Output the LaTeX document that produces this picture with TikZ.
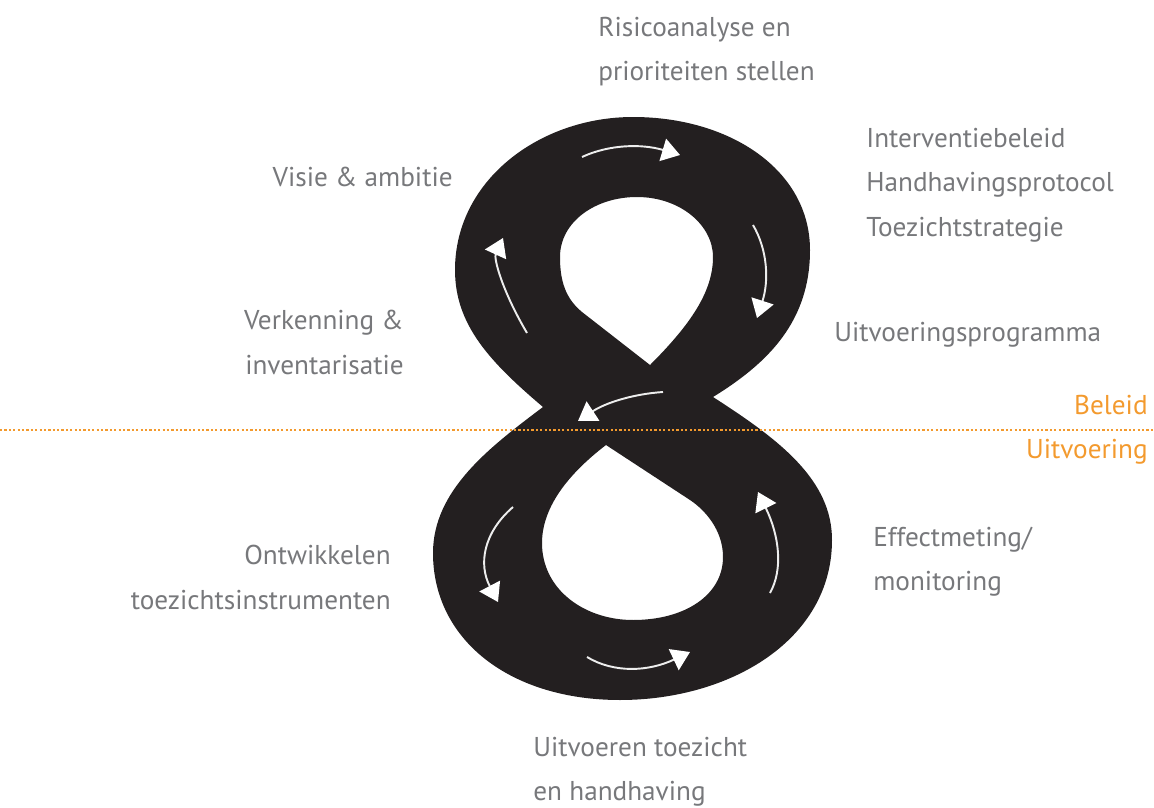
\documentclass[tikz,border=0pt]{standalone}
\usepackage{fontspec}
\setmainfont{PT Sans}
\usetikzlibrary{arrows.meta}
\definecolor{eightblack}{HTML}{231F20}
\definecolor{labelgray}{HTML}{77787B}
\definecolor{lineorange}{HTML}{F39A2E}
\definecolor{arrowwhite}{HTML}{EDEDED}
\tikzset{
  lbl/.style={inner sep=0pt, text=labelgray, font=\fontsize{15.5pt}{25.3pt}\selectfont},
  orangelbl/.style={inner sep=0pt, text=lineorange, font=\fontsize{15.5pt}{25.3pt}\selectfont},
  flow/.style={draw=arrowwhite, line width=1.1pt, -{Triangle[length=0.36cm,width=0.46cm,fill=white,color=white]}},
  divider/.style={draw=lineorange, line width=1.4pt, dash pattern=on 1.25pt off 1.25pt}
}
\begin{document}
\begin{tikzpicture}[x=0.02cm,y=-0.02cm]
\useasboundingbox (0,0) rectangle (1154,808);
% the figure eight
\fill[eightblack, even odd rule]
  (543,407) .. controls (490,362) and (455,325) .. (455,270)
  .. controls (455,180) and (540,117) .. (633,117)
  .. controls (730,117) and (810,170) .. (810,250)
  .. controls (810,320) and (770,362) .. (713,397)
  .. controls (780,440) and (832,480) .. (832,540)
  .. controls (832,640) and (730,700) .. (620,700)
  .. controls (510,700) and (433,640) .. (433,553)
  .. controls (433,490) and (490,447) .. (543,407) -- cycle
  (650,365) -- (582,312) .. controls (565,298) and (560,280) .. (560,257)
  .. controls (560,222) and (595,197) .. (637,197)
  .. controls (680,197) and (713,225) .. (713,257)
  .. controls (713,292) and (690,325) .. (650,365) -- cycle
  (606,445) .. controls (580,465) and (542,500) .. (542,543)
  .. controls (542,590) and (585,620) .. (633,620)
  .. controls (685,620) and (723,595) .. (723,557)
  .. controls (723,530) and (705,510) .. (690,500) -- cycle;
% arrow end points
\coordinate (a1s) at (582,157); \coordinate (a1e) at (680,155);
\coordinate (a2s) at (753,225); \coordinate (a2e) at (757,318);
\coordinate (a3s) at (663,392); \coordinate (a3e) at (578,421);
\coordinate (a4s) at (527,333); \coordinate (a4e) at (503,238);
\coordinate (a5s) at (513,507); \coordinate (a5e) at (498,602);
\coordinate (a6s) at (587,657); \coordinate (a6e) at (690,652);
\coordinate (a7s) at (770,593); \coordinate (a7e) at (758,492);
\draw[flow] (a1s) .. controls (609.3,144.3) and (642,143.7) .. (a1e);
\draw[flow] (a2s) .. controls (767.7,250) and (769,281) .. (a2e);
\draw[flow] (a3s) .. controls (633.3,394) and (605.7,402.7) .. (a3e);
\draw[flow] (a4s) .. controls (501.7,290) and (493.7,258.3) .. (a4e);
\draw[flow] (a5s) .. controls (483.3,532.7) and (478.3,564.3) .. (a5e);
\draw[flow] (a6s) .. controls (614,673.3) and (648.3,671.7) .. (a6e);
\draw[flow] (a7s) .. controls (783.3,569.3) and (779.3,535.7) .. (a7e);
% divider
\coordinate (dl) at (0,430); \coordinate (dr) at (1154,430);
\draw[divider] (dl) -- (dr);
% labels
\node[lbl, anchor=west, align=left] (risico) at (598,51.5) {Risicoanalyse en\\prioriteiten stellen};
\node[lbl, anchor=west, align=left] (interv) at (866,185) {Interventiebeleid\\Handhavingsprotocol\\Toezichtstrategie};
\node[lbl, anchor=west] (uitvprog) at (834,335) {Uitvoeringsprogramma};
\node[lbl, anchor=east] (visie) at (453,177) {Visie \& ambitie};
\node[lbl, anchor=east, align=right] (verk) at (404,342.5) {Verkenning \&\\inventarisatie};
\node[lbl, anchor=east, align=right] (ontw) at (391,577.5) {Ontwikkelen\\toezichtsinstrumenten};
\node[lbl, anchor=west, align=left] (effect) at (873,561.5) {Effectmeting/\\monitoring};
\node[lbl, anchor=west, align=left] (uitvoeren) at (533,771.5) {Uitvoeren toezicht\\en handhaving};
\node[orangelbl, anchor=east] (beleid) at (1148,405) {Beleid};
\node[orangelbl, anchor=east] (uitvoering) at (1148,452) {Uitvoering};
\end{tikzpicture}
\end{document}
